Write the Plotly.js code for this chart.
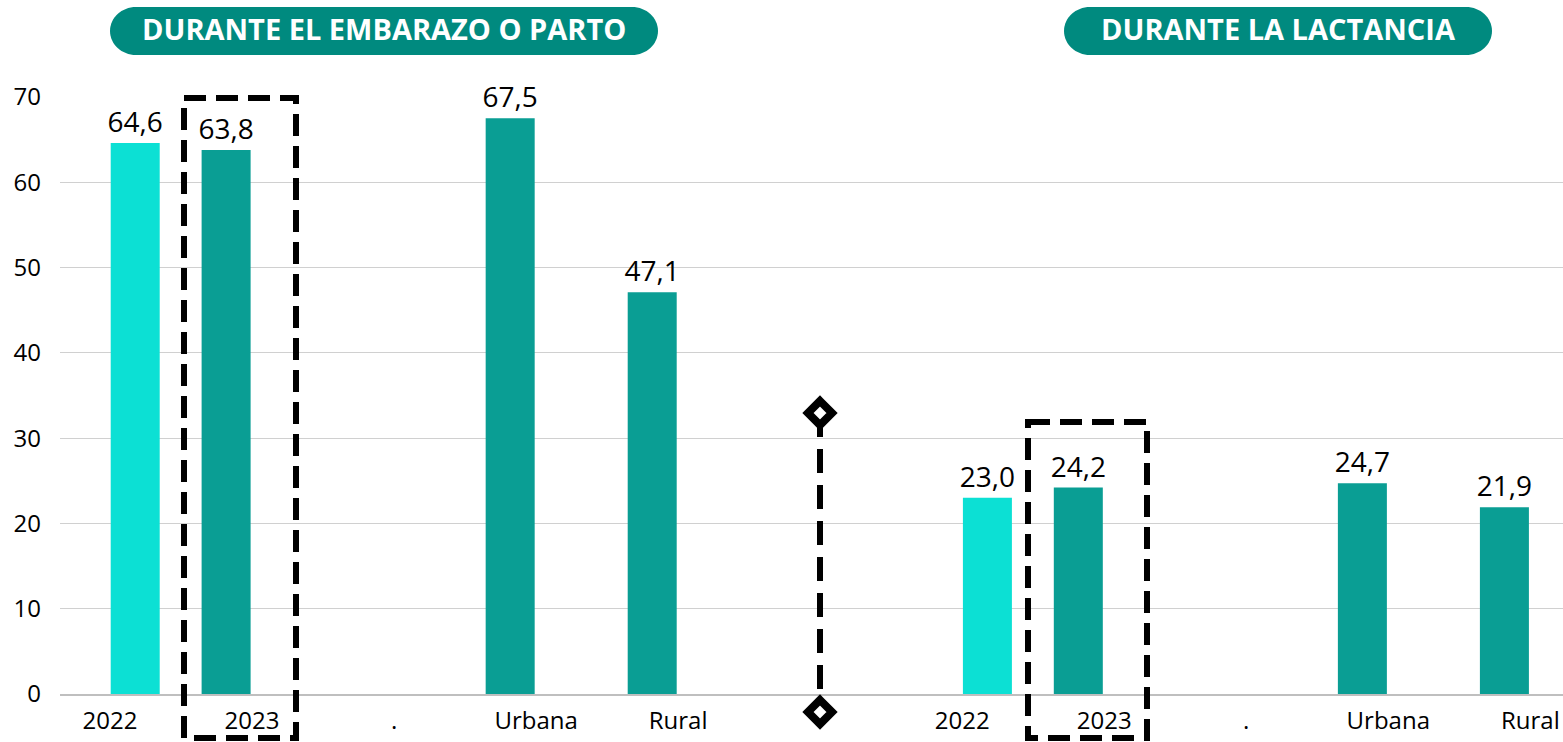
<!DOCTYPE html>
<html>
<head>
<meta charset="utf-8">
<script src="https://cdn.plot.ly/plotly-3.0.1.min.js"></script>
<style>html,body{margin:0;padding:0;background:#fff;}#chart{width:1563px;height:742px;}</style>
</head>
<body>
<div id="chart"></div>
<script>
// ---- data ----
const categories = ['2022', '2023', '.', 'Urbana', 'Rural', '', '2022', '2023', '.', 'Urbana', 'Rural'];
const values2022 = [64.6, null, null, null, null, null, 23.0, null, null, null, null];
const values2023 = [null, 63.8, null, 67.5, 47.1, null, null, 24.2, null, 24.7, 21.9];
const sectionLabels = ['DURANTE EL EMBARAZO O PARTO', 'DURANTE LA LACTANCIA'];

// ---- layout helpers ----
const W = 1563, H = 742, ML = 60, MR = 0, MT = 97, MB = 48;
const PW = W - ML - MR, PH = H - MT - MB;
const px2x = p => (p - ML) / PW;
const py2y = p => (H - MB - p) / PH;

const xIdx = categories.map((c, i) => i);
const tickVals = xIdx.filter(i => categories[i] !== '');
const tickText = tickVals.map(i => categories[i]);

function pillPath(x0, x1, y0, y1) {
  const h = (y1 - y0) / 2, r = 26, k = 0.5523, yc = (y0 + y1) / 2;
  const P = (x, y) => px2x(x).toFixed(5) + ',' + py2y(y).toFixed(5);
  return 'M' + P(x0 + r, y0) + ' L' + P(x1 - r, y0) +
    ' C' + P(x1 - r + k * r, y0) + ' ' + P(x1, yc - k * h) + ' ' + P(x1, yc) +
    ' C' + P(x1, yc + k * h) + ' ' + P(x1 - r + k * r, y1) + ' ' + P(x1 - r, y1) +
    ' L' + P(x0 + r, y1) +
    ' C' + P(x0 + r - k * r, y1) + ' ' + P(x0, yc + k * h) + ' ' + P(x0, yc) +
    ' C' + P(x0, yc - k * h) + ' ' + P(x0 + r - k * r, y0) + ' ' + P(x0 + r, y0) + ' Z';
}
function diamondPath(cx, cy, s) {
  const P = (x, y) => px2x(x).toFixed(5) + ',' + py2y(y).toFixed(5);
  return 'M' + P(cx, cy - s) + ' L' + P(cx + s, cy) + ' L' + P(cx, cy + s) + ' L' + P(cx - s, cy) + ' Z';
}

const FONT = 'Open Sans, Noto Sans, sans-serif';

const traces = [
  {
    type: 'bar', x: xIdx, y: values2022, name: '2022',
    marker: {color: '#0CE0D4'}, width: 0.345, offset: 0.005,
    texttemplate: '%{y:.1f}', textposition: 'outside', cliponaxis: false, constraintext: 'none',
    textfont: {family: FONT, size: 28, color: '#000'}, hoverinfo: 'x+y'
  },
  {
    type: 'bar', x: xIdx, y: values2023, name: '2023',
    marker: {color: '#0A9E94'}, width: 0.345, offset: -0.355,
    texttemplate: '%{y:.1f}', textposition: 'outside', cliponaxis: false, constraintext: 'none',
    textfont: {family: FONT, size: 28, color: '#000'}, hoverinfo: 'x+y'
  }
];

const dashLine = {color: '#000', width: 6, dash: '22px,10px'};
const shapes = [
  {type: 'path', xref: 'paper', yref: 'paper', path: pillPath(110, 658, 7, 55), fillcolor: '#008A7F', line: {width: 0}},
  {type: 'path', xref: 'paper', yref: 'paper', path: pillPath(1064, 1492, 7, 55), fillcolor: '#008A7F', line: {width: 0}},
  {type: 'rect', xref: 'paper', yref: 'paper', x0: px2x(184), x1: px2x(296), y0: py2y(98), y1: py2y(738), line: dashLine, fillcolor: 'rgba(0,0,0,0)'},
  {type: 'rect', xref: 'paper', yref: 'paper', x0: px2x(1028), x1: px2x(1147), y0: py2y(422), y1: py2y(738), line: dashLine, fillcolor: 'rgba(0,0,0,0)'},
  {type: 'line', xref: 'paper', yref: 'paper', x0: px2x(820), x1: px2x(820), y0: py2y(413), y1: py2y(712), line: {color: '#000', width: 6, dash: '24px,12px'}},
  {type: 'path', xref: 'paper', yref: 'paper', path: diamondPath(820, 413, 12), fillcolor: '#fff', line: {color: '#000', width: 8}},
  {type: 'path', xref: 'paper', yref: 'paper', path: diamondPath(820, 712, 12), fillcolor: '#fff', line: {color: '#000', width: 8}}
];

const annotations = [
  {xref: 'paper', yref: 'paper', x: px2x(384), y: py2y(28), text: '<b>' + sectionLabels[0] + '</b>', showarrow: false,
   font: {family: FONT, size: 29, color: '#fff'}, xanchor: 'center', yanchor: 'middle'},
  {xref: 'paper', yref: 'paper', x: px2x(1278), y: py2y(28), text: '<b>' + sectionLabels[1] + '</b>', showarrow: false,
   font: {family: FONT, size: 29, color: '#fff'}, xanchor: 'center', yanchor: 'middle'}
];

const layout = {
  width: W, height: H,
  margin: {l: ML, r: MR, t: MT, b: MB, pad: 0},
  paper_bgcolor: '#fff', plot_bgcolor: '#fff',
  separators: ',.',
  showlegend: false,
  barmode: 'overlay',
  font: {family: FONT, color: '#000'},
  xaxis: {
    range: [-0.352, 10.23], tickmode: 'array', tickvals: tickVals, ticktext: tickText,
    showgrid: false, zeroline: false, showline: true, linecolor: '#BFBFBF', linewidth: 2,
    ticks: '', tickfont: {family: FONT, size: 24, color: '#000'}, ticklabelstandoff: 4
  },
  yaxis: {
    range: [0, 70], dtick: 10, tick0: 0, showgrid: true, gridcolor: '#D0D0D0', gridwidth: 1,
    zeroline: false, showline: false, ticks: '',
    tickfont: {family: FONT, size: 24, color: '#000'}, ticklabelstandoff: 18
  },
  shapes: shapes,
  annotations: annotations
};

Plotly.newPlot('chart', traces, layout, {displayModeBar: false, staticPlot: true});
</script>
</body>
</html>
